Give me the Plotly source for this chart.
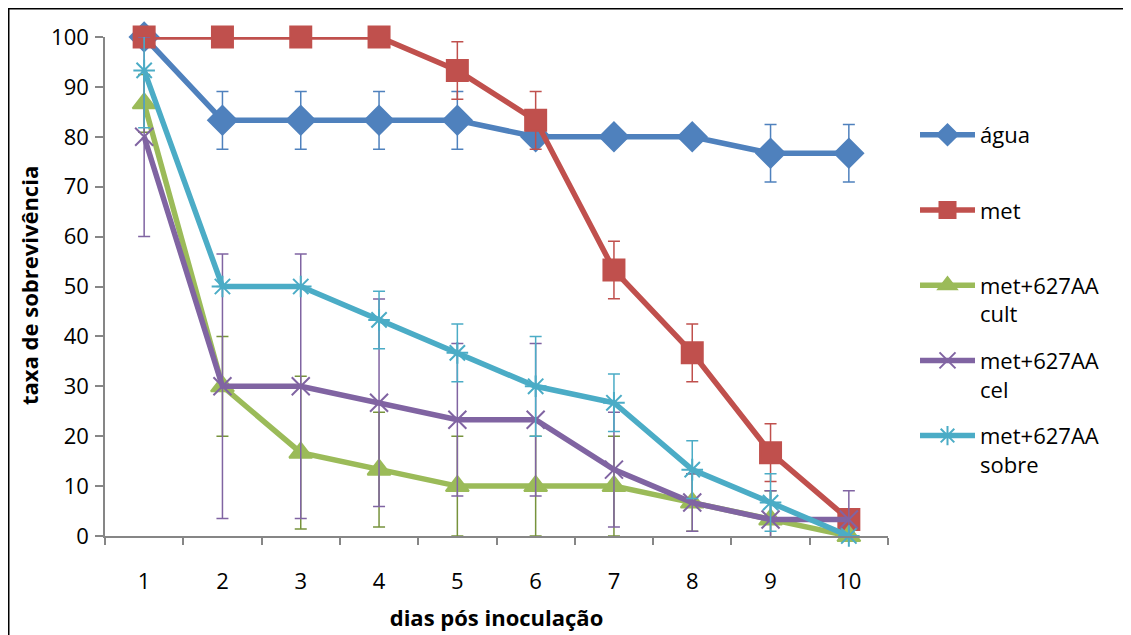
import plotly.graph_objects as go

dias = ["1", "2", "3", "4", "5", "6", "7", "8", "9", "10"]

agua = [100, 83.3, 83.3, 83.3, 83.3, 80, 80, 80, 76.7, 76.7]
agua_err = [0, 5.77, 5.77, 5.77, 5.77, 0, 0, 0, 5.77, 5.77]

met = [100, 100, 100, 100, 93.3, 83.3, 53.3, 36.7, 16.7, 3.3]
met_err = [0, 0, 0, 0, 5.77, 5.77, 5.77, 5.77, 5.77, 0]

cult = [86.7, 30, 16.7, 13.3, 10, 10, 10, 6.7, 3.3, 0]
cult_err = [5.77, 10, 15.3, 11.5, 10, 10, 10, 5.77, 5.77, 0]

cel = [80, 30, 30, 26.7, 23.3, 23.3, 13.3, 6.7, 3.3, 3.3]
cel_err = [20, 26.5, 26.5, 20.8, 15.3, 15.3, 11.5, 5.77, 5.77, 5.77]

sobre = [93.3, 50, 50, 43.3, 36.7, 30, 26.7, 13.3, 6.7, 0]
sobre_err = [11.5, 0, 0, 5.77, 5.77, 10, 5.77, 5.77, 5.77, 0]

names = ["água<br> ", "met<br> ", "met+627AA<br>cult", "met+627AA<br>cel", "met+627AA<br>sobre"]
series = [agua, met, cult, cel, sobre]
errors = [agua_err, met_err, cult_err, cel_err, sobre_err]
colors = ["#4F81BD", "#C0504D", "#9BBB59", "#8064A2", "#4BACC6"]
err_colors = ["#4F81BD", "#C0504D", "#77933C", "#8064A2", "#4BACC6"]
symbols = ["diamond", "square", "triangle-up", "x-thin-open", "asterisk-open"]
sizes = [22, 21, 20, 18, 18]

fig = go.Figure()
for i, (nm, y, e, c, ec, s, sz) in enumerate(zip(names, series, errors, colors, err_colors, symbols, sizes)):
    fig.add_trace(go.Scatter(
        x=dias, y=y, name=nm, mode="lines+markers", legendgroup=f"g{i}",
        line=dict(color=c, width=5.5),
        marker=dict(symbol=s, size=sz, color=c, line=dict(color=c, width=2)),
        error_y=dict(type="data", array=e, visible=True, color=ec, thickness=1.5, width=6),
        cliponaxis=False,
    ))

# page has an 8px body margin; work in page coordinates and shift
OFF = 8
W, H = 1131 - OFF, 635 - OFF
px0, px1, py0, py1 = 105, 888, 37, 536  # plot area in page coords
L, T = px0 - OFF, py0 - OFF
R = W - (px1 - OFF)
B = H - (py1 - OFF)
pw = px1 - px0
ph = py1 - py0


def xp(page_x):
    return (page_x - px0) / pw


def yp(page_y):
    return (py1 - page_y) / ph


fig.update_layout(
    width=W, height=H,
    margin=dict(l=L, r=R, t=T, b=B, autoexpand=False),
    paper_bgcolor="white", plot_bgcolor="white",
    font=dict(family="Open Sans", size=22, color="black"),
    showlegend=True,
    legend=dict(
        x=xp(915), y=yp(114), xanchor="left", yanchor="top",
        font=dict(family="Open Sans", size=22, color="black"),
        tracegroupgap=15, valign="top", itemwidth=55,
        bgcolor="rgba(0,0,0,0)",
    ),
    xaxis=dict(
        type="category", range=[-0.5, 9.5], tickson="boundaries", ticks="outside", ticklen=7,
        tickcolor="#868686", tickwidth=1.5,
        showline=True, linecolor="#868686", linewidth=1.5,
        showgrid=False, zeroline=False,
        tickfont=dict(size=22), ticklabelstandoff=25,
        title=dict(text="<b>dias pós inoculação</b>", font=dict(size=22), standoff=16),
    ),
    yaxis=dict(
        range=[0, 100], tickvals=list(range(0, 101, 10)), ticks="outside", ticklen=8,
        tickcolor="#868686", tickwidth=1.5,
        showline=True, linecolor="#868686", linewidth=1.5,
        showgrid=False, zeroline=False,
        tickfont=dict(size=22), ticklabelstandoff=2,
    ),
    annotations=[dict(
        text="<b>taxa de sobrevivência</b>", textangle=-90,
        xref="paper", yref="paper", x=xp(29), y=yp(286),
        xanchor="center", yanchor="middle", showarrow=False,
        font=dict(size=22, color="black"),
    )],
    shapes=[dict(
        type="rect", xref="paper", yref="paper",
        x0=xp(OFF + 0.75), x1=xp(1140),
        y0=yp(650), y1=yp(OFF + 0.75),
        line=dict(color="black", width=1.5), fillcolor="rgba(0,0,0,0)", layer="below",
    )],
)

fig.write_html("out.html")
